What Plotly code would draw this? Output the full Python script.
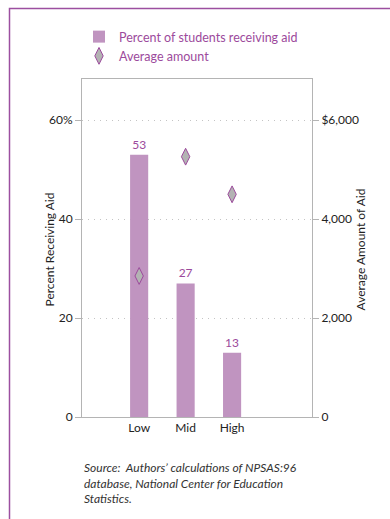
import plotly.graph_objects as go

categories = ["Low", "Mid", "High"]
pct_receiving = [53, 27, 13]
avg_amount = [2850, 5260, 4500]
left_tickvals = [0, 20, 40, 60]
left_ticktext = ["0", "20", "40", "60%"]
right_tickvals = [0, 2000, 4000, 6000]
right_ticktext = ["0", "2,000", "4,000", "$6,000"]

W, H = 390, 519
PURPLE = "#9c4a9c"
BAR = "#c094c0"
GRAY_AX = "#b4b4b4"
FONT = "Lato"

fig = go.Figure()
fig.add_trace(go.Bar(
    x=[0, 1, 2], y=pct_receiving, name="Percent of students receiving aid",
    marker=dict(color=BAR, line=dict(width=0)), width=0.39,
    text=[str(v) for v in pct_receiving], textposition="outside",
    textfont=dict(color=PURPLE, size=12, family=FONT), cliponaxis=False,
    hoverinfo="skip",
))
fig.add_trace(go.Scatter(
    x=[0, 1, 2], y=avg_amount, yaxis="y2", mode="markers", name="Average amount",
    marker=dict(symbol="diamond-tall", size=12, color="#b3b3b3",
                line=dict(color=PURPLE, width=1)),
    hoverinfo="skip",
))

fig.update_layout(
    width=W, height=H, margin=dict(l=0, r=0, t=0, b=0, autoexpand=False),
    paper_bgcolor="white", plot_bgcolor="white",
    font=dict(family=FONT, size=12, color="#222"),
    showlegend=True,
    legend=dict(x=79 / W, y=1 - 22 / H, xanchor="left", yanchor="top",
                font=dict(color=PURPLE, size=12.5, family=FONT),
                bgcolor="rgba(0,0,0,0)", tracegroupgap=0, itemwidth=30),
    bargap=0.6,
    xaxis=dict(domain=[82 / W, 312 / W], range=[-1.23, 3.72],
               tickvals=[0, 1, 2], ticktext=categories, showgrid=False,
               zeroline=False, showline=True, mirror=True, linecolor=GRAY_AX,
               linewidth=1, ticks="", tickfont=dict(size=12, color="#222")),
    yaxis=dict(domain=[1 - 417 / H, 1 - 79 / H], range=[0, 68.3],
               tickvals=left_tickvals, ticktext=left_ticktext,
               showgrid=True, gridcolor="#c4c4c4", griddash="1px,5px", gridwidth=1,
               zeroline=False, showline=True, linecolor=GRAY_AX, linewidth=1,
               ticks="outside", ticklen=6, tickcolor=GRAY_AX,
               tickfont=dict(size=12, color="#222")),
    yaxis2=dict(overlaying="y", side="right", range=[0, 6830],
                tickvals=right_tickvals, ticktext=right_ticktext,
                showgrid=False, zeroline=False, showline=True,
                linecolor=GRAY_AX, linewidth=1, ticks="outside", ticklen=6,
                tickcolor=GRAY_AX, tickfont=dict(size=12, color="#222")),
    shapes=[dict(type="rect", xref="paper", yref="paper",
                 x0=9.5 / W, x1=1.2, y0=-0.2, y1=1 - 8.5 / H,
                 line=dict(color="#9c4fa0", width=1.5), layer="above")],
    annotations=[
        dict(text="Percent Receiving Aid", xref="paper", yref="paper",
             x=40 / W, y=1 - 250 / H, textangle=-90, showarrow=False,
             font=dict(size=12, color="#222")),
        dict(text="Average Amount of Aid", xref="paper", yref="paper",
             x=370 / W, y=1 - 250 / H, textangle=-90, showarrow=False,
             font=dict(size=12, color="#222")),
        dict(text="<i>Source:  Authors’ calculations of NPSAS:96<br>database, National Center for Education<br>Statistics.</i>",
             xref="paper", yref="paper", x=82 / W, y=1 - 458 / H,
             xanchor="left", yanchor="top", align="left", showarrow=False,
             font=dict(size=12, color="#333")),
    ],
)

fig.write_html(
    "out.html",
    config={"displayModeBar": False},
    post_script="document.body.style.margin='0';document.body.style.padding='0';"
                "document.documentElement.style.overflow='hidden';",
)
